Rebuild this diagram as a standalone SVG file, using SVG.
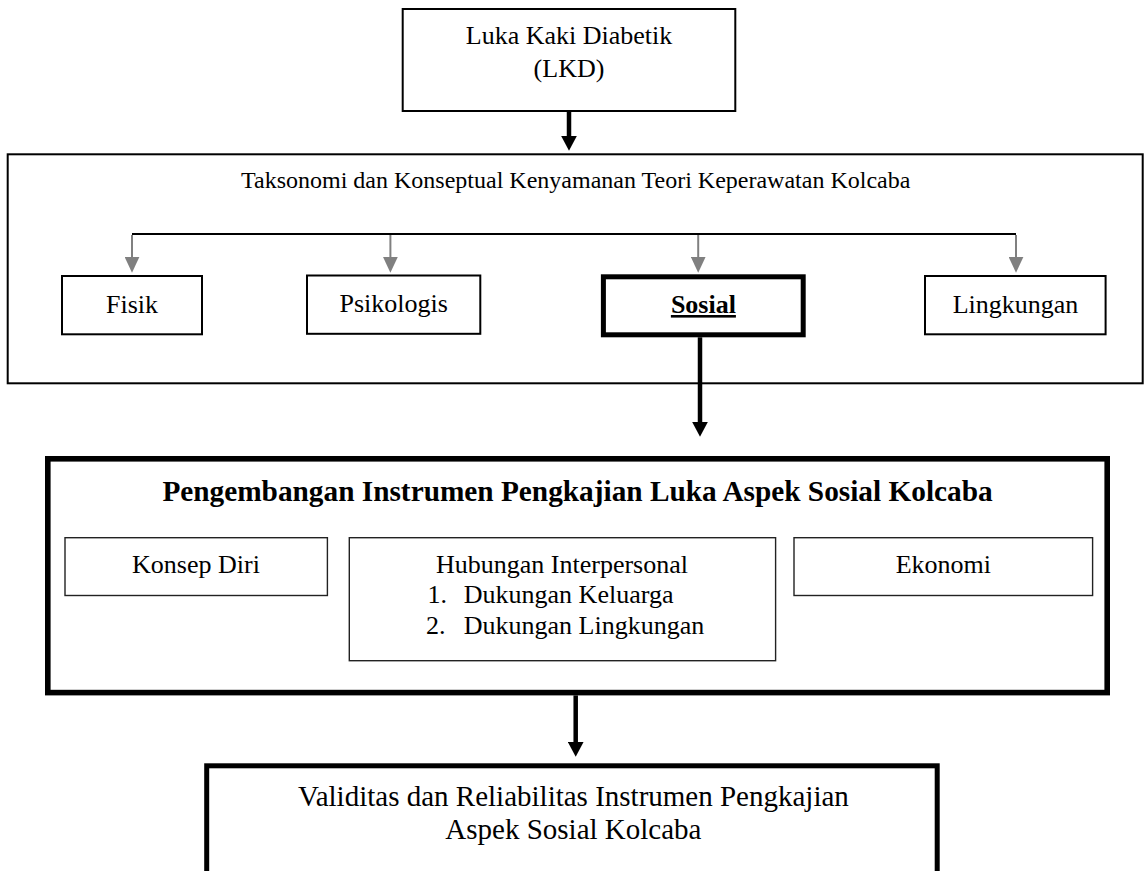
<svg xmlns="http://www.w3.org/2000/svg" width="1144" height="871" viewBox="0 0 1144 871">
  <style>
    .t { font-family: "Liberation Serif", "Times New Roman", serif; fill: #000; }
    .n26 { font-size: 26px; }
    .box { fill: #fff; stroke: #000; stroke-width: 2; }
    .thick { fill: #fff; stroke: #000; }
    .inner { fill: #fff; stroke: #222; stroke-width: 1.4; }
    .blk { stroke: #000; stroke-width: 4.5; fill: none; }
    .gry { stroke: #808080; stroke-width: 2; fill: none; }
  </style>
  <defs>
    <marker id="ahB" markerUnits="userSpaceOnUse" viewBox="0 0 15 16" markerWidth="15" markerHeight="16" refX="7" refY="8" orient="auto">
      <path d="M0,0 L15,8 L0,16 Z" fill="#000"/>
    </marker>
    <marker id="ahG" markerUnits="userSpaceOnUse" viewBox="0 0 16 15" markerWidth="16" markerHeight="15" refX="8" refY="7.5" orient="auto">
      <path d="M0,0 L16,7.5 L0,15 Z" fill="#808080"/>
    </marker>
  </defs>
  <rect width="1144" height="871" fill="#fff"/>

  <g id="node-lkd">
    <rect class="box" x="402.7" y="9" width="332.6" height="102"/>
    <text class="t n26" x="569" y="44.3" text-anchor="middle">Luka Kaki Diabetik</text>
    <text class="t n26" x="569" y="76.5" text-anchor="middle">(LKD)</text>
  </g>

  <g id="node-taksonomi">
    <rect class="box" x="7.7" y="154.3" width="1135" height="229"/>
    <text class="t" font-size="24" x="575.7" y="187.5" text-anchor="middle">Taksonomi dan Konseptual Kenyamanan Teori Keperawatan Kolcaba</text>
  </g>

  <g id="node-fisik">
    <rect class="box" x="62" y="276" width="140" height="58.3"/>
    <text class="t n26" x="132" y="313" text-anchor="middle">Fisik</text>
  </g>
  <g id="node-psikologis">
    <rect class="box" x="307" y="275.5" width="173.3" height="58.3"/>
    <text class="t n26" x="393.7" y="312" text-anchor="middle">Psikologis</text>
  </g>
  <g id="node-sosial">
    <rect class="thick" stroke-width="5" x="603.4" y="276.8" width="199.8" height="58"/>
    <text class="t" font-size="26" font-weight="bold" text-decoration="underline" x="703.4" y="313" text-anchor="middle">Sosial</text>
  </g>
  <g id="node-lingkungan">
    <rect class="box" x="925" y="276" width="180.6" height="58.3"/>
    <text class="t n26" x="1015.5" y="312.5" text-anchor="middle">Lingkungan</text>
  </g>

  <g id="node-pengembangan">
    <rect class="thick" stroke-width="5.6" x="47.8" y="458.8" width="1059.4" height="233.8"/>
    <text class="t" font-size="29.3" font-weight="bold" x="577.5" y="500.5" text-anchor="middle">Pengembangan Instrumen Pengkajian Luka Aspek Sosial Kolcaba</text>
  </g>
  <g id="node-konsep-diri">
    <rect class="inner" x="65" y="537.7" width="262.4" height="57.8"/>
    <text class="t n26" x="196" y="573" text-anchor="middle">Konsep Diri</text>
  </g>
  <g id="node-hubungan">
    <rect class="inner" x="349.3" y="537.7" width="426.3" height="123"/>
    <text class="t n26" x="562" y="573" text-anchor="middle">Hubungan Interpersonal</text>
    <text class="t n26" x="427.5" y="603">1.</text>
    <text class="t n26" x="463.8" y="603">Dukungan Keluarga</text>
    <text class="t n26" x="426" y="633.5">2.</text>
    <text class="t n26" x="463.8" y="633.5">Dukungan Lingkungan</text>
  </g>
  <g id="node-ekonomi">
    <rect class="inner" x="794" y="537.7" width="298.6" height="57.8"/>
    <text class="t n26" x="943.3" y="573" text-anchor="middle">Ekonomi</text>
  </g>

  <g id="node-validitas">
    <rect class="thick" stroke-width="5" x="206.7" y="765.8" width="730.5" height="120"/>
    <text class="t" font-size="29" x="573.4" y="805.5" text-anchor="middle">Validitas dan Reliabilitas Instrumen Pengkajian</text>
    <text class="t" font-size="29" x="573.4" y="839" text-anchor="middle">Aspek Sosial Kolcaba</text>
  </g>

  <g id="connectors">
    <line class="blk" x1="569" y1="112" x2="569" y2="142.7" marker-end="url(#ahB)"/>
    <polyline points="132,234 1016,234" fill="none" stroke="#000" stroke-width="2"/>
    <line class="gry" x1="132" y1="235" x2="132" y2="264.7" marker-end="url(#ahG)"/>
    <line class="gry" x1="390.4" y1="235" x2="390.4" y2="264.7" marker-end="url(#ahG)"/>
    <line class="gry" x1="698.2" y1="235" x2="698.2" y2="264.7" marker-end="url(#ahG)"/>
    <line class="gry" x1="1016" y1="235" x2="1016" y2="264.7" marker-end="url(#ahG)"/>
    <line class="blk" stroke-width="4" x1="700" y1="337.3" x2="700" y2="428.7" marker-end="url(#ahB)"/>
    <line class="blk" stroke-width="4" x1="575.7" y1="695.4" x2="575.7" y2="748.7" marker-end="url(#ahB)"/>
  </g>
</svg>
